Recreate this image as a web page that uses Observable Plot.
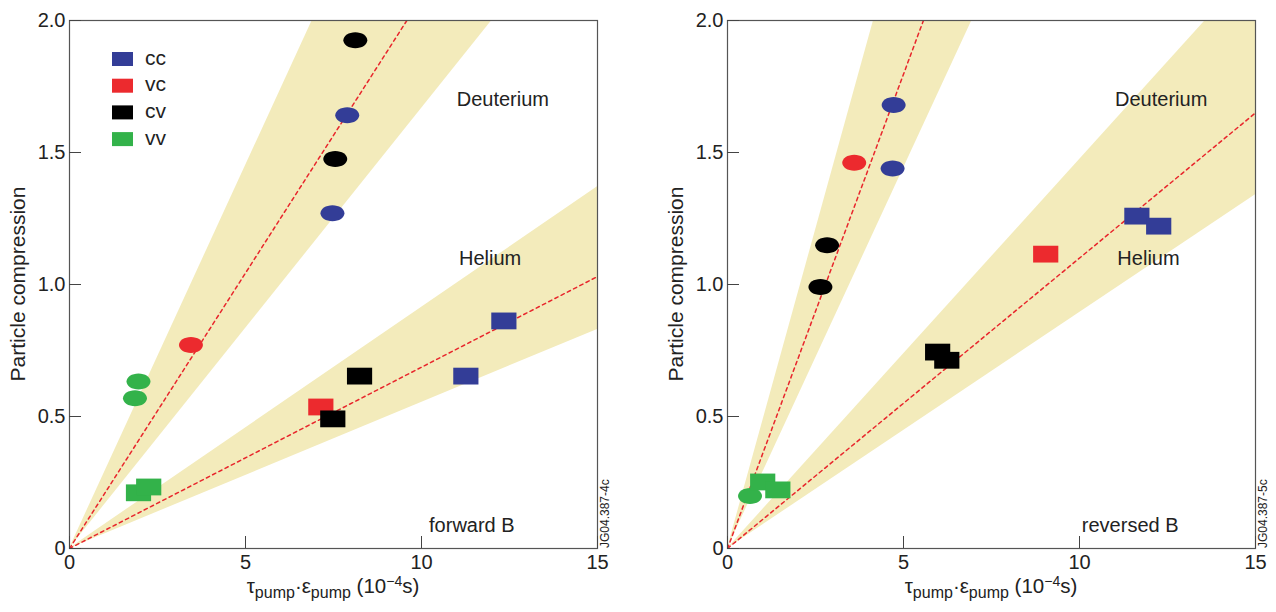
<!DOCTYPE html>
<html><head><meta charset="utf-8">
<script src="https://cdn.jsdelivr.net/npm/d3@7"></script>
<script src="https://cdn.jsdelivr.net/npm/@observablehq/plot@0.6"></script>
<style>
body{margin:0;background:#fff;font-family:"Liberation Sans",Arial,sans-serif;}
#wrap{display:flex;width:1276px;height:612px;}
</style></head><body><div id="wrap"></div>
<script>
// ---- data ----
const configs = ["cc", "vc", "cv", "vv"];
const configColors = ["#333d97", "#ec2a2e", "#000000", "#33b24a"];
const xTicks = [0, 5, 10, 15];
const yTicks = [0, 0.5, 1.0, 1.5, 2.0];

// forward B
const fwdX = [8.12, 7.89, 7.55, 7.47, 3.45, 1.96, 1.86, 1.96, 2.25, 7.14, 7.48, 8.24, 11.26, 12.34];
const fwdY = [1.925, 1.641, 1.475, 1.270, 0.771, 0.633, 0.569, 0.211, 0.233, 0.536, 0.491, 0.653, 0.653, 0.862];
const fwdConfig = ["cv", "cc", "cv", "cc", "vc", "vv", "vv", "vv", "vv", "vc", "cv", "cv", "cc", "cc"];
const fwdGas = ["D", "D", "D", "D", "D", "D", "D", "He", "He", "He", "He", "He", "He", "He"];

// reversed B
const revX = [4.72, 3.60, 4.69, 2.83, 2.64, 0.64, 1.00, 1.43, 5.97, 6.23, 9.04, 11.63, 12.25];
const revY = [1.680, 1.461, 1.439, 1.149, 0.991, 0.199, 0.252, 0.222, 0.744, 0.713, 1.115, 1.259, 1.221];
const revConfig = ["cc", "vc", "cc", "cv", "cv", "vv", "vv", "vv", "cv", "cv", "vc", "cc", "cc"];
const revGas = ["D", "D", "D", "D", "D", "D", "He", "He", "He", "He", "He", "He", "He"];

// fitted fans from the origin: value at x = 15 (lower edge, fit, upper edge)
const bandGas = ["Deuterium", "Helium"];
const fwdBandLow = [2.50, 0.83], fwdBandFit = [3.13, 1.03], fwdBandHigh = [4.35, 1.37];
const revBandLow = [4.32, 1.34], revBandFit = [5.39, 1.65], revBandHigh = [7.23, 2.21];

// annotations
const fwdLabelText = ["Deuterium", "Helium", "forward B"];
const fwdLabelX = [12.31, 11.95, 11.43];
const fwdLabelY = [1.70, 1.10, 0.087];
const revLabelText = ["Deuterium", "Helium", "reversed B"];
const revLabelX = [12.32, 11.96, 11.44];
const revLabelY = [1.70, 1.10, 0.087];
const fwdTag = "JG04.387-4c";
const revTag = "JG04.387-5c";

// ---- symbols ----
const ellipseSymbol = {
  draw(ctx, size) {
    const r = Math.sqrt(size / Math.PI), rx = r * 1.5, ry = r, k = 0.5523;
    ctx.moveTo(rx, 0);
    ctx.bezierCurveTo(rx, k * ry, k * rx, ry, 0, ry);
    ctx.bezierCurveTo(-k * rx, ry, -rx, k * ry, -rx, 0);
    ctx.bezierCurveTo(-rx, -k * ry, -k * rx, -ry, 0, -ry);
    ctx.bezierCurveTo(k * rx, -ry, rx, -k * ry, rx, 0);
    ctx.closePath();
  }
};
const rectSymbol = {
  draw(ctx, size) {
    const r = Math.sqrt(size / Math.PI), w = r * 1.5;
    ctx.rect(-w, -r, 2 * w, 2 * r);
  }
};

const FONT = "Liberation Sans, Arial, Helvetica, sans-serif";
const bandFill = "#f3ebbb";
const fitColor = "#e8262c";

function panel({width, marginLeft, marginRight, xs, ys, cfg, gas, low, fit, high, labText, labX, labY, tag, legend}) {
  const pts = xs.map((x, i) => ({x, y: ys[i], config: cfg[i], gas: gas[i]}));
  const bands = [];
  bandGas.forEach((g, i) => {
    bands.push({band: g, x: 0, lo: 0, hi: 0, mid: 0});
    bands.push({band: g, x: 15, lo: low[i], hi: high[i], mid: fit[i]});
  });
  const labs = labText.map((t, i) => ({t, x: labX[i], y: labY[i]}));
  const marginTop = 20, marginBottom = 64, height = 612;
  const svg = Plot.plot({
    width, height, marginLeft, marginRight, marginTop, marginBottom,
    style: {fontFamily: FONT, fontSize: "20px", color: "#222", background: "#fff"},
    x: {domain: [0, 15], label: null},
    y: {domain: [0, 2], label: null},
    color: {domain: configs, range: configColors},
    marks: [
      Plot.areaY(bands, {x: "x", y1: "lo", y2: "hi", z: "band", fill: bandFill, clip: true}),
      Plot.line(bands, {x: "x", y: "mid", z: "band", stroke: fitColor, strokeWidth: 1.5, strokeDasharray: "3.5,3.5", clip: true}),
      Plot.dot(pts.filter(d => d.gas === "D"), {x: "x", y: "y", fill: "config", symbol: ellipseSymbol, r: 8}),
      Plot.dot(pts.filter(d => d.gas === "He"), {x: "x", y: "y", fill: "config", symbol: rectSymbol, r: 8.4}),
      Plot.text(labs, {x: "x", y: "y", text: "t", fontSize: 20, fill: "#222"}),
      Plot.frame({stroke: "#555", strokeWidth: 1.2}),
      Plot.axisY({ticks: yTicks, tickSize: 0, tickPadding: 4, tickFormat: d => d === 0 ? "0" : d3.format(".1f")(d), label: null, fontSize: 20, fill: "#222"}),
      Plot.axisY({ticks: yTicks, tickSize: 12, dx: 12, fill: "none", label: null, stroke: "#444"}),
      Plot.axisX({ticks: xTicks, tickSize: 0, tickPadding: 6, tickFormat: d => String(d), label: null, fontSize: 20, fill: "#222"}),
      Plot.axisX({ticks: xTicks, tickSize: 12, dy: -12, fill: "none", label: null, stroke: "#444"})
    ]
  });
  const s = d3.select(svg);
  const x0 = marginLeft, x1 = width - marginRight, yMid = (marginTop + height - marginBottom) / 2;
  // y label
  s.append("text")
    .attr("transform", `translate(${x0 - 50},${yMid}) rotate(-90)`)
    .attr("text-anchor", "middle").attr("dominant-baseline", "middle")
    .attr("font-size", 21).attr("fill", "#222").attr("font-family", FONT)
    .text("Particle compression");
  // x label with sub/superscripts
  const xl = s.append("text")
    .attr("x", (x0 + x1) / 2).attr("y", 593)
    .attr("text-anchor", "middle").attr("font-size", 20.5).attr("fill", "#222").attr("font-family", FONT);
  xl.append("tspan").text("τ");
  xl.append("tspan").attr("dy", 5).attr("font-size", 16).text("pump");
  xl.append("tspan").attr("dy", -5).text("·ε");
  xl.append("tspan").attr("dy", 5).attr("font-size", 16).text("pump");
  xl.append("tspan").attr("dy", -5).text(" (10");
  xl.append("tspan").attr("dy", -7).attr("font-size", 14).text("−4");
  xl.append("tspan").attr("dy", 7).text("s)");
  // figure tag
  s.append("text")
    .attr("transform", `translate(${x1 + 9},${height - marginBottom}) rotate(-90)`)
    .attr("text-anchor", "start").attr("dominant-baseline", "middle")
    .attr("font-size", 12).attr("fill", "#222").attr("font-family", FONT)
    .text(tag);
  if (legend) {
    const g = s.append("g").attr("transform", `translate(${x0 + 43},${marginTop + 39})`);
    configs.forEach((c, i) => {
      g.append("rect").attr("x", 0).attr("y", i * 26.7 - 7).attr("width", 21).attr("height", 14).attr("fill", configColors[i]);
      g.append("text").attr("x", 33).attr("y", i * 26.7).attr("dominant-baseline", "middle")
        .attr("text-anchor", "start")
        .attr("font-size", 21).attr("fill", "#222").attr("font-family", FONT).text(c);
    });
  }
  return svg;
}

const wrap = document.getElementById("wrap");
wrap.append(panel({width: 640, marginLeft: 69, marginRight: 43,
  xs: fwdX, ys: fwdY, cfg: fwdConfig, gas: fwdGas,
  low: fwdBandLow, fit: fwdBandFit, high: fwdBandHigh,
  labText: fwdLabelText, labX: fwdLabelX, labY: fwdLabelY, tag: fwdTag, legend: true}));
wrap.append(panel({width: 636, marginLeft: 87, marginRight: 21,
  xs: revX, ys: revY, cfg: revConfig, gas: revGas,
  low: revBandLow, fit: revBandFit, high: revBandHigh,
  labText: revLabelText, labX: revLabelX, labY: revLabelY, tag: revTag, legend: false}));
</script></body></html>
